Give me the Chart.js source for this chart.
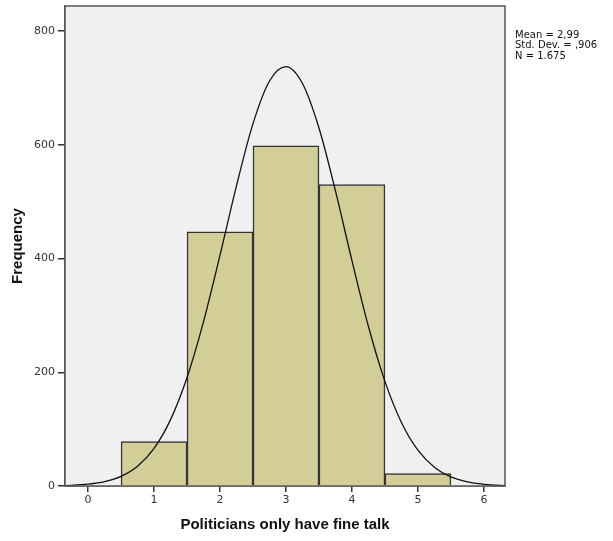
<!DOCTYPE html>
<html>
<head>
<meta charset="utf-8">
<script src="https://cdn.jsdelivr.net/npm/chart.js@4/dist/chart.umd.min.js"></script>
<style>
  html, body { margin: 0; padding: 0; background: #fff; }
  #wrap { width: 613px; height: 541px; }
</style>
</head>
<body>
<div id="wrap"><canvas id="histChart" width="613" height="541"></canvas></div>
<script>
// bins of the histogram (answer values 1..5) and their counts
const binCenters = [1, 2, 3, 4, 5];
const binCounts = [78, 447, 598, 530, 22];

// fitted normal curve at 0.25 steps
const curveX = [-0.5, -0.25, 0, 0.25, 0.5, 0.75, 1, 1.25, 1.5, 1.75, 2, 2.25, 2.5, 2.75, 3,
  3.25, 3.5, 3.75, 4, 4.25, 4.5, 4.75, 5, 5.25, 5.5, 5.75, 6, 6.25, 6.5];
const curveY = [0.4, 1.2, 3.2, 7.6, 16.9, 34.7, 66.1, 116.7, 190.8, 289.0, 405.9, 528.3, 637.2, 712.1, 737.5,
  707.7, 629.4, 518.8, 396.3, 280.4, 183.9, 111.7, 62.9, 32.9, 15.9, 7.1, 3.0, 1.1, 0.4];

const xTicks = [0, 1, 2, 3, 4, 5, 6];
const yTicks = [0, 200, 400, 600, 800];
const statsLines = ['Mean = 2,99', 'Std. Dev. = ,906', 'N = 1.675'];

const tickFont = '"DejaVu Sans", sans-serif';
const titleFont = '"Liberation Sans", Arial, sans-serif';

// grey plot background, frame and the stats box text
const plotFrame = {
  id: 'plotFrame',
  beforeDatasetsDraw(chart) {
    const { ctx, chartArea: a } = chart;
    ctx.save();
    ctx.fillStyle = '#f0f0f0';
    ctx.fillRect(a.left, a.top, a.right - a.left, a.bottom - a.top);
    ctx.restore();
  },
  afterDraw(chart) {
    const { ctx, chartArea: a } = chart;
    ctx.save();
    ctx.strokeStyle = '#555';
    ctx.lineWidth = 1.5;
    ctx.strokeRect(a.left, a.top, a.right - a.left, a.bottom - a.top);
    ctx.fillStyle = '#111';
    ctx.font = '10px ' + tickFont;
    ctx.textBaseline = 'middle';
    statsLines.forEach((s, i) => ctx.fillText(s, a.right + 10, 35 + i * 10.5));
    ctx.restore();
  }
};

const ctx = document.getElementById('histChart').getContext('2d');
new Chart(ctx, {
  type: 'bar',
  data: {
    datasets: [
      {
        type: 'line',
        data: curveX.map((x, i) => ({ x: x, y: curveY[i] })),
        borderColor: '#111',
        borderWidth: 1.3,
        pointRadius: 0,
        fill: false,
        cubicInterpolationMode: 'monotone',
        order: 0
      },
      {
        type: 'bar',
        data: binCenters.map((x, i) => ({ x: x, y: binCounts[i] })),
        backgroundColor: '#d3ce98',
        borderColor: '#333',
        borderWidth: 1.5,
        barPercentage: 1,
        categoryPercentage: 1,
        grouped: false,
        order: 1
      }
    ]
  },
  plugins: [plotFrame],
  options: {
    responsive: false,
    animation: false,
    layout: { padding: { top: 6, right: 108, left: 0, bottom: 0 } },
    plugins: { legend: { display: false }, tooltip: { enabled: false } },
    scales: {
      x: {
        type: 'linear',
        min: -0.35,
        max: 6.32,
        offset: false,
        afterFit: (s) => { s.height = 55; },
        afterBuildTicks: (s) => { s.ticks = xTicks.map(v => ({ value: v })); },
        grid: { offset: false, drawOnChartArea: false, drawTicks: true, tickLength: 6, color: '#333', lineWidth: 1.5 },
        border: { display: true, color: '#555', width: 1.5 },
        ticks: { color: '#333', padding: 2, font: { family: tickFont, size: 11 }, maxRotation: 0 },
        title: {
          display: true,
          text: 'Politicians only have fine talk',
          color: '#111',
          font: { family: titleFont, size: 15, weight: 'bold' },
          padding: { top: 0, bottom: 7 }
        }
      },
      y: {
        min: 0,
        max: 844,
        afterFit: (s) => { s.width = 65; },
        afterBuildTicks: (s) => { s.ticks = yTicks.map(v => ({ value: v })); },
        grid: { drawOnChartArea: false, drawTicks: true, tickLength: 7, color: '#333', lineWidth: 1.5 },
        border: { display: true, color: '#555', width: 1.5 },
        ticks: { color: '#333', padding: 3, font: { family: tickFont, size: 11, lineHeight: 0.5 } },
        title: {
          display: true,
          text: 'Frequency',
          color: '#111',
          font: { family: titleFont, size: 15, weight: 'bold' },
          padding: { top: 9, bottom: 0 }
        }
      }
    }
  }
});
</script>
</body>
</html>
